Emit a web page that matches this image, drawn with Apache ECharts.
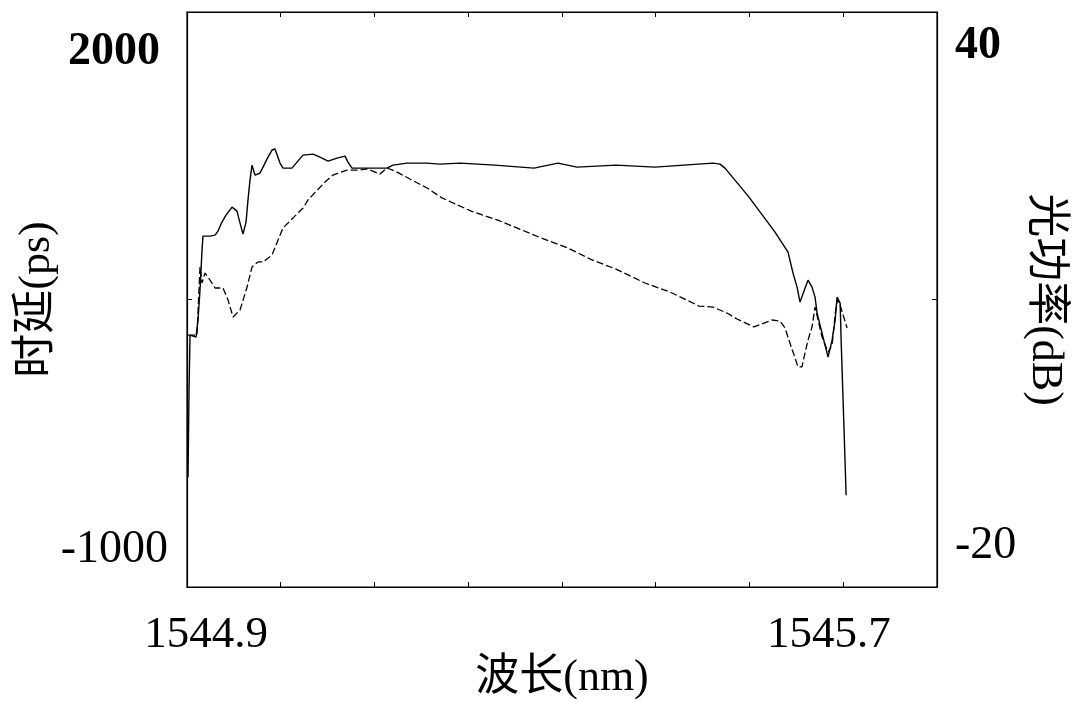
<!DOCTYPE html>
<html>
<head>
<meta charset="utf-8">
<script src="https://cdn.jsdelivr.net/npm/echarts@6/dist/echarts.min.js"></script>
<style>
html,body{margin:0;padding:0;background:#fff;}
#chart{width:1081px;height:702px;}
</style>
</head>
<body>
<div id="chart"></div>
<script>
// Wavelength (nm) and transmitted optical power (dB) - right axis
const powerWavelength = [1544.8769,1544.8782,1544.8795,1544.8872,1544.8897,1544.8923,1544.8949,1544.8961,1544.9051,1544.9116,1544.9154,1544.9205,1544.9257,1544.9334,1544.9398,1544.9437,1544.9475,1544.9514,1544.9539,1544.9565,1544.9591,1544.9629,1544.9693,1544.9732,1544.9796,1544.9848,1544.9886,1544.9950,1544.9989,1545.0104,1545.0169,1545.0246,1545.0374,1545.0464,1545.0567,1545.0682,1545.0785,1545.0823,1545.0875,1545.1106,1545.1324,1545.1401,1545.1581,1545.1838,1545.2005,1545.2262,1545.2711,1545.3212,1545.3520,1545.3764,1545.4265,1545.4766,1545.5138,1545.5511,1545.5601,1545.5665,1545.5973,1545.6307,1545.6474,1545.6538,1545.6590,1545.6628,1545.6692,1545.6731,1545.6782,1545.6821,1545.6847,1545.6911,1545.6988,1545.7040,1545.7079,1545.7104,1545.7143,1545.7156,1545.7181,1545.7220];
const powerDb = [-11.76,-1.30,5.31,5.07,7.11,10.72,15.53,17.21,17.21,17.33,17.82,18.90,19.74,20.70,20.22,18.78,17.45,18.90,21.54,23.95,25.75,24.55,24.79,25.51,26.71,27.56,27.68,25.99,25.39,25.39,26.11,26.95,27.07,26.71,26.23,26.59,26.83,26.11,25.39,25.39,25.39,25.75,25.99,25.99,25.87,25.99,25.75,25.39,25.99,25.51,25.75,25.51,25.75,25.99,25.87,25.39,21.90,17.70,15.29,12.77,11.08,9.28,10.96,11.92,11.08,9.88,7.96,5.55,2.67,4.71,7.11,9.88,9.16,4.71,-2.50,-13.93];

// Wavelength (nm) and group delay (ps) - left axis
const delayWavelength = [1544.8769,1544.8884,1544.8923,1544.8949,1544.8987,1544.9051,1544.9116,1544.9218,1544.9283,1544.9347,1544.9437,1544.9527,1544.9591,1544.9668,1544.9732,1544.9848,1544.9925,1544.9989,1545.0246,1545.0310,1545.0528,1545.0631,1545.0811,1545.0978,1545.1067,1545.1234,1545.1324,1545.1453,1545.1619,1545.1838,1545.2031,1545.2403,1545.2775,1545.3276,1545.3649,1545.3957,1545.4265,1545.4637,1545.4958,1545.5331,1545.5511,1545.5690,1545.5819,1545.6037,1545.6268,1545.6371,1545.6435,1545.6486,1545.6538,1545.6602,1545.6653,1545.6692,1545.6731,1545.6782,1545.6821,1545.6860,1545.6911,1545.6988,1545.7040,1545.7079,1545.7104,1545.7143,1545.7181,1545.7233];
const delayPs = [296,296,707,610,670,628,580,580,508,405,447,586,707,737,737,779,869,942,1062,1111,1219,1261,1291,1291,1298,1267,1304,1279,1237,1183,1123,1044,984,887,821,749,694,610,556,471,465,429,393,345,387,381,339,266,194,104,104,188,266,345,465,387,284,194,236,417,508,477,417,339];

// Tick labels
const xTickLabels = [1544.9, 1545.7];
const leftTickLabels = [-1000, 2000];
const rightTickLabels = [-20, 40];
const boldLabels = [2000, 40];

// Axis extents
const xMin = 1544.8756, xMax = 1545.8387;
const leftMin = -1223.1, leftMax = 2244.2;
const rightMin = -24.96, rightMax = 44.15;

function pair(xs, ys){ return xs.map((x,i)=>[x, ys[i]]); }
function evenTicks(a, b, n){ const out=[]; for(let k=0;k<=n;k++){ out.push(a+(b-a)*k/n); } return out; }

const serif = "'Liberation Serif', 'Times New Roman', serif";
const titleFont = "'Liberation Serif', 'Noto Sans CJK SC', serif";
const xTicks = evenTicks(xMin, xMax, 8);
const labelRich = {
  b:{fontFamily:serif,fontSize:46,fontWeight:'bold',color:'#000'},
  n:{fontFamily:serif,fontSize:46,color:'#000'},
  bl:{fontFamily:serif,fontSize:46,fontWeight:'bold',color:'#000',padding:[0,8,0,0]}
};

const chart = echarts.init(document.getElementById('chart'), null, {renderer:'canvas'});
chart.setOption({
  animation:false,
  backgroundColor:'#fff',
  grid:{left:187,right:144,top:12,bottom:115,containLabel:false,outerBoundsMode:'none',show:true,borderColor:'#000',borderWidth:1.2,backgroundColor:'transparent'},
  xAxis:[{
    type:'value', min:xMin, max:xMax, position:'bottom',
    name:'波长(nm)', nameLocation:'middle', nameGap:69, nameMoveOverlap:false,
    nameTextStyle:{fontFamily:titleFont,fontSize:44,color:'#000'},
    axisLine:{show:true,onZero:false,lineStyle:{color:'#000',width:1.2}},
    axisTick:{show:true,inside:true,length:5,customValues:xTicks,lineStyle:{color:'#000'}},
    axisLabel:{show:true,customValues:xTickLabels,margin:26,fontFamily:serif,fontSize:45,color:'#000',formatter:v=>v.toFixed(1)},
    splitLine:{show:false}
  },{
    type:'value', min:xMin, max:xMax, position:'top',
    axisLine:{show:true,onZero:false,lineStyle:{color:'#000',width:1.2}},
    axisTick:{show:true,inside:true,length:5,customValues:xTicks,lineStyle:{color:'#000'}},
    axisLabel:{show:false}, splitLine:{show:false}
  }],
  yAxis:[{
    type:'value', min:leftMin, max:leftMax, position:'left',
    name:'时延(ps)', nameLocation:'middle', nameGap:128, nameRotate:90, nameMoveOverlap:false,
    nameTextStyle:{fontFamily:titleFont,fontSize:44,color:'#000'},
    axisLine:{show:true,onZero:false,lineStyle:{color:'#000',width:1.2}},
    axisTick:{show:true,inside:true,length:5,customValues:[(leftMin+leftMax)/2],lineStyle:{color:'#000'}},
    axisLabel:{show:true,customValues:leftTickLabels,margin:19,fontFamily:serif,fontSize:46,color:'#000',
      formatter:v=> boldLabels.includes(v) ? '{bl|'+v+'}' : '{n|'+v+'}',
      rich:labelRich},
    splitLine:{show:false}
  },{
    type:'value', min:rightMin, max:rightMax, position:'right',
    name:'光功率(dB)', nameLocation:'middle', nameGap:86, nameRotate:-90, nameMoveOverlap:false,
    nameTextStyle:{fontFamily:titleFont,fontSize:44,color:'#000'},
    axisLine:{show:true,onZero:false,lineStyle:{color:'#000',width:1.2}},
    axisTick:{show:true,inside:true,length:5,customValues:[(rightMin+rightMax)/2],lineStyle:{color:'#000'}},
    axisLabel:{show:true,customValues:rightTickLabels,margin:18,fontFamily:serif,fontSize:46,color:'#000',
      formatter:v=> boldLabels.includes(v) ? '{b|'+v+'}' : '{n|'+v+'}',
      rich:labelRich},
    splitLine:{show:false}
  }],
  series:[{
    name:'光功率', type:'line', xAxisIndex:0, yAxisIndex:1, showSymbol:false, symbol:'none',
    data:pair(powerWavelength, powerDb),
    lineStyle:{color:'#000',width:1.4}
  },{
    name:'时延', type:'line', xAxisIndex:0, yAxisIndex:0, showSymbol:false, symbol:'none',
    data:pair(delayWavelength, delayPs),
    lineStyle:{color:'#000',width:1.3,type:[7,3]}
  }]
});
</script>
</body>
</html>
